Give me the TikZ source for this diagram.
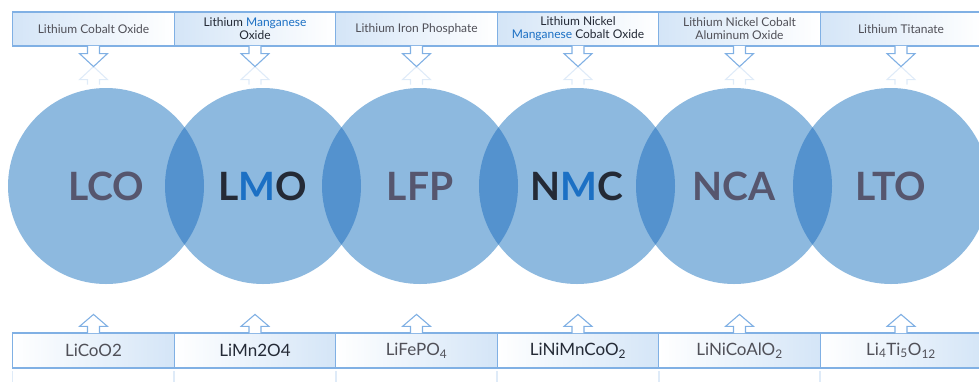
\documentclass[tikz,border=0pt]{standalone}
\usepackage{fontspec}
\setmainfont{Lato}
\usetikzlibrary{calc}
\definecolor{bubble}{RGB}{141,185,223}
\definecolor{lens}{RGB}{84,146,206}
\definecolor{frame}{RGB}{128,176,228}
\definecolor{pale}{RGB}{212,229,247}
\definecolor{ink}{RGB}{86,86,110}
\definecolor{dark}{RGB}{36,42,54}
\definecolor{mn}{RGB}{28,112,196}
\definecolor{grey}{RGB}{80,80,88}

\tikzset{
  bubble/.style={circle, fill=bubble, minimum size=196pt, inner sep=0pt,
    font=\fontsize{39}{42}\selectfont\bfseries, text=ink},
  topbox/.style={draw=frame, line width=1.2pt, left color=pale, right color=white,
    minimum width=161.5pt, minimum height=34pt, inner sep=0pt, align=center,
    font=\fontsize{12}{13}\selectfont, text=grey},
  botbox/.style={draw=frame, line width=1.2pt, left color=white, right color=pale,
    minimum width=161.5pt, minimum height=35pt, inner sep=0pt,
    font=\fontsize{17}{20}\selectfont, text=grey},
  arrowline/.style={draw=frame, line width=1.1pt, fill=white, line join=miter},
  ghost/.style={draw=frame, line width=1.1pt, opacity=0.25},
}

\begin{document}
\begin{tikzpicture}[x=1pt,y=-1pt]
\useasboundingbox (0,0) rectangle (979,381);
\clip (0,0) rectangle (979,381);

% circles
\node[bubble] (c1) at (106,186) {LCO};
\node[bubble, text=dark] (c2) at (263,186) {L\textcolor{mn}{M}O};
\node[bubble] (c3) at (420,186) {LFP};
\node[bubble, text=dark] (c4) at (577,186) {N\textcolor{mn}{M}C};
\node[bubble] (c5) at (734,186) {NCA};
\node[bubble] (c6) at (891,186) {LTO};

% overlaps
\foreach \a/\b in {1/2,2/3,3/4,4/5,5/6}{
  \begin{scope}
    \clip (c\a) circle[radius=98pt];
    \fill[lens] (c\b) circle[radius=98pt];
  \end{scope}
}

% top boxes
\node[topbox] (t1) at (93.5,29) {Lithium Cobalt Oxide};
\node[topbox, text=dark] (t2) at (255,29) {Lithium \textcolor{mn}{Manganese}\\Oxide};
\node[topbox] (t3) at (416.5,29) {Lithium Iron Phosphate};
\node[topbox, text=dark] (t4) at (578,29) {Lithium Nickel\\\textcolor{mn}{Manganese} Cobalt Oxide};
\node[topbox] (t5) at (739.5,29) {Lithium Nickel Cobalt\\Aluminum Oxide};
\node[topbox] (t6) at (901,29) {Lithium Titanate};

% bottom boxes
\node[botbox] (b1) at (93.5,350.5) {LiCoO2};
\node[botbox, text=dark] (b2) at (255,350.5) {LiMn2O4};
\node[botbox] (b3) at (416.5,350.5) {LiFePO\textsubscript{4}};
\node[botbox, text=dark] (b4) at (578,350.5) {LiNiMnCoO\textsubscript{2}};
\node[botbox] (b5) at (739.5,350.5) {LiNiCoAlO\textsubscript{2}};
\node[botbox] (b6) at (901,350.5) {Li\textsubscript{4}Ti\textsubscript{5}O\textsubscript{12}};

% arrows
\foreach \i in {1,...,6}{
  \draw[arrowline] ($(t\i.south)+(-6,-0.7)$) -- ++(0,7.7) -- ++(-8,0)
    -- ++(14,13) -- ++(14,-13) -- ++(-8,0) -- ++(0,-7.7);
  \draw[ghost] ($(t\i.south)+(0,20)$) -- ++(-14,13) -- ++(8,0) -- ++(0,5)
    ($(t\i.south)+(0,20)$) -- ++(14,13) -- ++(-8,0) -- ++(0,5);
  \draw[arrowline] ($(b\i.north)+(-6,0.7)$) -- ++(0,-6.7) -- ++(-8,0)
    -- ++(14,-12) -- ++(14,12) -- ++(-8,0) -- ++(0,6.7);
  \draw[ghost] ($(b\i.south west)+(0,2)$) -- ++(0,13)
    ($(b\i.south east)+(0,2)$) -- ++(0,13);
}
\end{tikzpicture}
\end{document}
